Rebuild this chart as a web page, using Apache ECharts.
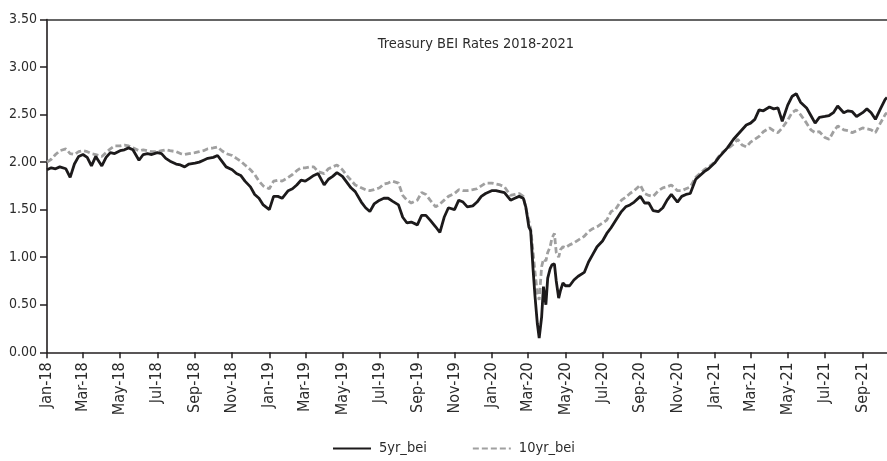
<!DOCTYPE html>
<html>
<head>
<meta charset="utf-8">
<script src="https://cdn.jsdelivr.net/npm/echarts@6/dist/echarts.min.js"></script>
<style>
html,body{margin:0;padding:0;background:#fff;}
#chart{width:887px;height:461px;}
</style>
</head>
<body>
<div id="chart"></div>
<script>
// Observation dates (shared by both series)
const dates = [
 '2018-01-01','2018-01-08','2018-01-15','2018-01-22','2018-02-01','2018-02-08','2018-02-15','2018-02-22',
 '2018-03-01','2018-03-08','2018-03-15','2018-03-22','2018-04-01','2018-04-08','2018-04-15','2018-04-22',
 '2018-05-01','2018-05-08','2018-05-15','2018-05-22','2018-06-01','2018-06-08','2018-06-15','2018-06-22',
 '2018-07-01','2018-07-08','2018-07-15','2018-07-22','2018-08-01','2018-08-08','2018-08-15','2018-08-22',
 '2018-09-01','2018-09-08','2018-09-15','2018-09-22','2018-10-01','2018-10-08','2018-10-15','2018-10-22',
 '2018-11-01','2018-11-08','2018-11-15','2018-11-22','2018-12-01','2018-12-08','2018-12-15','2018-12-22',
 '2019-01-01','2019-01-08','2019-01-15','2019-01-22','2019-02-01','2019-02-08','2019-02-15','2019-02-22',
 '2019-03-01','2019-03-08','2019-03-15','2019-03-22','2019-04-01','2019-04-08','2019-04-15','2019-04-22',
 '2019-05-01','2019-05-08','2019-05-15','2019-05-22','2019-06-01','2019-06-08','2019-06-15','2019-06-22',
 '2019-07-01','2019-07-08','2019-07-15','2019-07-22','2019-08-01','2019-08-08','2019-08-15','2019-08-22',
 '2019-09-01','2019-09-08','2019-09-15','2019-09-22','2019-10-01','2019-10-08','2019-10-15','2019-10-22',
 '2019-11-01','2019-11-08','2019-11-15','2019-11-22','2019-12-01','2019-12-08','2019-12-15','2019-12-22',
 '2020-01-01','2020-01-08','2020-01-15','2020-01-22','2020-02-01','2020-02-08','2020-02-15','2020-02-22','2020-02-26',
 '2020-03-02','2020-03-05','2020-03-09','2020-03-12','2020-03-16','2020-03-19','2020-03-23','2020-03-26','2020-03-30',
 '2020-04-02','2020-04-06','2020-04-09','2020-04-13','2020-04-16','2020-04-20','2020-04-23','2020-04-27',
 '2020-05-01','2020-05-08','2020-05-15','2020-05-22','2020-06-01','2020-06-08','2020-06-15','2020-06-22',
 '2020-07-01','2020-07-08','2020-07-15','2020-07-22','2020-08-01','2020-08-08','2020-08-15','2020-08-22',
 '2020-09-01','2020-09-08','2020-09-15','2020-09-22','2020-10-01','2020-10-08','2020-10-15','2020-10-22',
 '2020-11-01','2020-11-08','2020-11-15','2020-11-22','2020-12-01','2020-12-08','2020-12-15','2020-12-22',
 '2021-01-01','2021-01-08','2021-01-15','2021-01-22','2021-02-01','2021-02-08','2021-02-15','2021-02-22',
 '2021-03-01','2021-03-08','2021-03-15','2021-03-22','2021-04-01','2021-04-08','2021-04-15','2021-04-22',
 '2021-05-01','2021-05-08','2021-05-15','2021-05-22','2021-06-01','2021-06-08','2021-06-15','2021-06-22',
 '2021-07-01','2021-07-08','2021-07-15','2021-07-22','2021-08-01','2021-08-08','2021-08-15','2021-08-22',
 '2021-09-01','2021-09-08','2021-09-15','2021-09-22','2021-10-01','2021-10-08','2021-10-11'
];

const yr5_bei = [
 1.92,1.94,1.93,1.95, 1.93,1.84,1.98,2.06, 2.08,2.05,1.96,2.06, 1.96,2.05,2.10,2.09,
 2.12,2.13,2.15,2.13, 2.02,2.08,2.09,2.08, 2.10,2.09,2.04,2.01, 1.98,1.97,1.95,1.98,
 1.99,2.00,2.02,2.04, 2.05,2.07,2.01,1.95, 1.92,1.88,1.86,1.80, 1.74,1.66,1.62,1.55,
 1.50,1.64,1.64,1.62, 1.70,1.72,1.76,1.81, 1.80,1.83,1.86,1.88, 1.76,1.82,1.85,1.89,
 1.85,1.79,1.73,1.69, 1.58,1.52,1.48,1.56, 1.60,1.62,1.62,1.59, 1.55,1.42,1.36,1.37,
 1.34,1.44,1.44,1.39, 1.32,1.26,1.42,1.52, 1.50,1.60,1.58,1.53, 1.54,1.58,1.64,1.67,
 1.70,1.70,1.69,1.68, 1.60,1.62,1.64,1.62,1.53,
 1.32,1.28,0.87,0.60,0.30,0.15,0.37,0.69,0.50,
 0.78,0.88,0.92,0.93,0.75,0.57,0.65,0.73,
 0.70,0.70,0.76,0.80, 0.84,0.95,1.03,1.11, 1.17,1.25,1.31,1.38, 1.48,1.53,1.55,1.58,
 1.64,1.57,1.57,1.49, 1.48,1.52,1.60,1.66, 1.58,1.64,1.66,1.67, 1.82,1.86,1.90,1.93,
 1.99,2.05,2.10,2.15, 2.24,2.29,2.34,2.39, 2.41,2.45,2.55,2.54, 2.58,2.56,2.57,2.43,
 2.60,2.69,2.72,2.63, 2.57,2.49,2.41,2.47, 2.48,2.49,2.52,2.59, 2.52,2.54,2.53,2.48,
 2.52,2.56,2.52,2.45, 2.57,2.66,2.68
];

const yr10_bei = [
 2.00,2.03,2.08,2.12, 2.14,2.09,2.08,2.11, 2.12,2.11,2.09,2.08, 2.06,2.10,2.14,2.17,
 2.17,2.18,2.17,2.15, 2.12,2.13,2.12,2.11, 2.11,2.12,2.13,2.12, 2.11,2.09,2.08,2.09,
 2.10,2.11,2.12,2.14, 2.15,2.16,2.12,2.09, 2.07,2.04,2.01,1.97, 1.92,1.87,1.80,1.75,
 1.72,1.80,1.81,1.80, 1.84,1.87,1.91,1.94, 1.94,1.95,1.95,1.90, 1.88,1.93,1.95,1.97,
 1.92,1.86,1.81,1.76, 1.73,1.71,1.70,1.71, 1.73,1.77,1.78,1.80, 1.78,1.65,1.60,1.57,
 1.60,1.68,1.66,1.60, 1.53,1.56,1.60,1.64, 1.67,1.71,1.70,1.70, 1.71,1.72,1.75,1.78,
 1.78,1.77,1.76,1.74, 1.65,1.66,1.67,1.64,1.52,
 1.38,1.30,1.05,0.85,0.62,0.55,0.90,0.98,0.96,
 1.05,1.11,1.20,1.25,1.05,1.00,1.08,1.11,
 1.10,1.13,1.15,1.18, 1.22,1.27,1.30,1.32, 1.36,1.39,1.48,1.50, 1.60,1.63,1.67,1.70,
 1.76,1.67,1.65,1.64, 1.70,1.73,1.74,1.76, 1.70,1.70,1.72,1.74, 1.84,1.88,1.92,1.95,
 2.00,2.06,2.11,2.14, 2.19,2.24,2.18,2.16, 2.21,2.24,2.27,2.32, 2.36,2.33,2.31,2.36,
 2.44,2.52,2.55,2.50, 2.41,2.34,2.31,2.32, 2.26,2.24,2.32,2.38, 2.34,2.33,2.31,2.33,
 2.36,2.35,2.34,2.31, 2.42,2.50,2.52
];

const yTicks = [0, 0.5, 1.0, 1.5, 2.0, 2.5, 3.0, 3.5];
const monthNames = ['Jan','Feb','Mar','Apr','May','Jun','Jul','Aug','Sep','Oct','Nov','Dec'];

// calendar-day categories from first to last observation
const days = [];
(function(){
  const s = new Date(dates[0] + 'T00:00:00Z');
  const e = new Date(dates[dates.length - 1] + 'T00:00:00Z');
  for (let d = new Date(s); d <= e; d.setUTCDate(d.getUTCDate() + 1)) {
    days.push(d.toISOString().slice(0, 10));
  }
})();

function isLabelDay(v) {
  const m = parseInt(v.slice(5, 7), 10);
  return v.slice(8, 10) === '01' && (m % 2 === 1);
}
function fmtLabel(v) {
  return monthNames[parseInt(v.slice(5, 7), 10) - 1] + '-' + v.slice(2, 4);
}

const FONT = "'DejaVu Sans Condensed','Liberation Sans Narrow','DejaVu Sans',sans-serif";
const TXT = '#2b2b2b';

const chart = echarts.init(document.getElementById('chart'), null, {renderer: 'canvas'});
chart.setOption({
  animation: false,
  backgroundColor: '#ffffff',
  title: {
    text: 'Treasury BEI Rates 2018-2021',
    left: 471, top: 32, textAlign: 'center',
    textStyle: {fontFamily: FONT, fontSize: 14.5, fontWeight: 'normal', color: TXT}
  },
  legend: {
    top: 436, left: 327,
    itemWidth: 38, itemHeight: 14, itemGap: 45,
    itemStyle: {opacity: 0},
    textStyle: {fontFamily: FONT, fontSize: 14.5, color: TXT, padding: [0, 0, 0, 3]},
    data: ['5yr_bei', '10yr_bei']
  },
  grid: {left: 47, right: 0, top: 19.5, bottom: 108.7, containLabel: false},
  xAxis: [{
    type: 'category',
    data: days,
    boundaryGap: false,
    axisLine: {show: true, lineStyle: {color: '#231f20', width: 1.6}},
    axisTick: {show: true, interval: (i, v) => isLabelDay(v), length: 6, lineStyle: {color: '#231f20', width: 1.5}},
    axisLabel: {
      interval: (i, v) => isLabelDay(v),
      formatter: fmtLabel,
      rotate: 90, margin: 10,
      fontFamily: FONT, fontSize: 16, color: TXT
    },
    splitLine: {show: false}
  }, {
    type: 'category',
    data: days,
    position: 'top',
    boundaryGap: false,
    axisLine: {show: true, onZero: false, lineStyle: {color: '#333', width: 1.5}},
    axisTick: {show: false},
    axisLabel: {show: false},
    splitLine: {show: false}
  }],
  yAxis: {
    type: 'value',
    min: yTicks[0], max: yTicks[yTicks.length - 1], interval: 0.5,
    axisLine: {show: true, lineStyle: {color: '#231f20', width: 1.6}},
    axisTick: {show: true, length: 7, lineStyle: {color: '#231f20', width: 1.5}},
    axisLabel: {formatter: v => v.toFixed(2), fontFamily: FONT, fontSize: 14, color: TXT, margin: 10},
    splitLine: {show: false}
  },
  series: [{
    name: '5yr_bei',
    type: 'line',
    symbol: 'none',
    connectNulls: true,
    data: dates.map((d, i) => [d, yr5_bei[i]]),
    lineStyle: {color: '#1c1a1b', width: 2.8},
    itemStyle: {color: '#1c1a1b'},
    z: 3
  }, {
    name: '10yr_bei',
    type: 'line',
    symbol: 'none',
    connectNulls: true,
    data: dates.map((d, i) => [d, yr10_bei[i]]),
    lineStyle: {color: '#a0a0a0', width: 2.8, type: [6, 3]},
    itemStyle: {color: '#a0a0a0'},
    z: 2
  }]
});
</script>
</body>
</html>
